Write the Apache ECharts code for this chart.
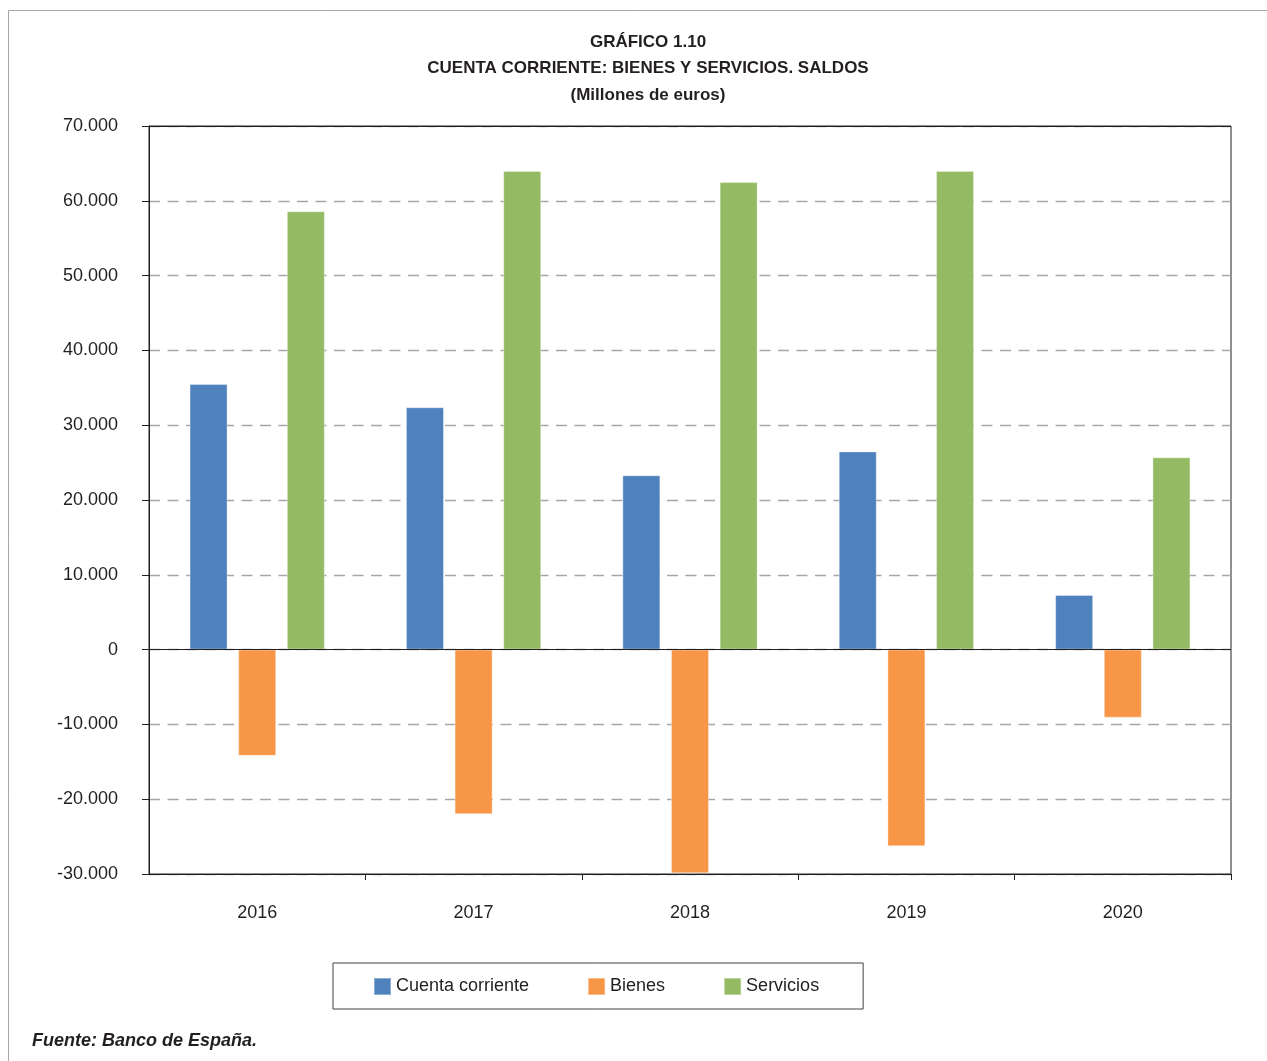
<!DOCTYPE html>
<html>
<head>
<meta charset="utf-8">
<script src="https://cdn.jsdelivr.net/npm/echarts@6/dist/echarts.min.js"></script>
<style>
  html, body { margin: 0; padding: 0; background: #fff; }
  #chart { width: 1267px; height: 1061px; }
</style>
</head>
<body>
<div id="chart"></div>
<script>
// Years on the category axis
const years = ['2016', '2017', '2018', '2019', '2020'];

// Balances in millions of euros
const cuentaCorriente = [35500, 32400, 23300, 26500, 7300];
const bienes = [-14200, -22000, -29900, -26300, -9100];
const servicios = [58600, 64000, 62500, 64000, 25700];

// Value axis range
const yMin = -30000;
const yMax = 70000;
const yStep = 10000;

const titleLines = [
  'GRÁFICO 1.10',
  'CUENTA CORRIENTE: BIENES Y SERVICIOS. SALDOS',
  '(Millones de euros)'
];
const sourceText = 'Fuente: Banco de España.';

const FONT = '"Liberation Sans", Arial, Helvetica, sans-serif';
const INK = '#231f20';

function formatThousands(v) {
  const s = Math.abs(v).toString().replace(/\B(?=(\d{3})+(?!\d))/g, '.');
  return (v < 0 ? '-' : '') + s;
}

const chart = echarts.init(document.getElementById('chart'), null, { renderer: 'canvas' });

const barCommon = {
  type: 'bar',
  barWidth: 38,
  barGap: '28%',
  itemStyle: { borderColor: 'rgba(255,255,255,0.35)', borderWidth: 1 }
};

chart.setOption({
  backgroundColor: '#fff',
  animation: false,
  title: {
    text: titleLines.join('\n'),
    left: 643,
    top: 24,
    textAlign: 'center',
    textStyle: {
      fontFamily: FONT,
      fontWeight: 'bold',
      fontSize: 17,
      lineHeight: 26.5,
      color: INK
    }
  },
  graphic: [
    {
      type: 'rect',
      silent: true,
      shape: { x: 8.5, y: 10.5, width: 1400, height: 1200 },
      style: { fill: 'none', stroke: '#a7a7a7', lineWidth: 1 }
    },
    {
      type: 'text',
      left: 32,
      top: 1032,
      style: {
        text: sourceText,
        font: 'italic bold 18px ' + FONT,
        fill: INK
      }
    }
  ],
  legend: {
    data: ['Cuenta corriente', 'Bienes', 'Servicios'],
    left: 333,
    top: 963,
    orient: 'horizontal',
    icon: 'rect',
    itemWidth: 17,
    itemHeight: 17,
    itemGap: 58,
    padding: [14, 44, 13, 40],
    borderColor: '#404040',
    borderWidth: 1,
    textStyle: { fontFamily: FONT, fontSize: 18, color: INK }
  },
  grid: {
    left: 149,
    right: 36,
    top: 126,
    bottom: 187,
    show: true,
    borderColor: INK,
    borderWidth: 1,
    containLabel: false
  },
  xAxis: {
    type: 'category',
    data: years,
    boundaryGap: true,
    axisLine: { onZero: false, lineStyle: { color: INK, width: 1 } },
    axisTick: {
      show: true,
      length: 6,
      interval: function (index) { return index > 0; },
      lineStyle: { color: INK }
    },
    axisLabel: {
      margin: 30,
      fontFamily: FONT,
      fontSize: 18,
      color: INK
    },
    splitLine: { show: false }
  },
  yAxis: {
    type: 'value',
    min: yMin,
    max: yMax,
    interval: yStep,
    axisLine: { show: true, lineStyle: { color: INK, width: 1 } },
    axisTick: { show: true, length: 7, lineStyle: { color: INK } },
    axisLabel: {
      margin: 31,
      padding: [4, 0, 0, 0],
      fontFamily: FONT,
      fontSize: 18,
      color: INK,
      formatter: formatThousands
    },
    splitLine: {
      show: true,
      lineStyle: { color: '#a6a6a6', width: 1.3, type: [11, 7.5] }
    }
  },
  series: [
    Object.assign({}, barCommon, {
      name: 'Cuenta corriente',
      data: cuentaCorriente,
      itemStyle: Object.assign({}, barCommon.itemStyle, { color: '#4f81bd' }),
      // Solid baseline at zero and solid top/bottom edges of the plot frame
      markLine: {
        silent: true,
        symbol: 'none',
        label: { show: false },
        lineStyle: { color: INK, type: 'solid', width: 1 },
        data: [{ yAxis: 0 }, { yAxis: yMax }, { yAxis: yMin }]
      }
    }),
    Object.assign({}, barCommon, {
      name: 'Bienes',
      data: bienes,
      itemStyle: Object.assign({}, barCommon.itemStyle, { color: '#f79646' })
    }),
    Object.assign({}, barCommon, {
      name: 'Servicios',
      data: servicios,
      itemStyle: Object.assign({}, barCommon.itemStyle, { color: '#94bb63' })
    })
  ]
});
</script>
</body>
</html>
